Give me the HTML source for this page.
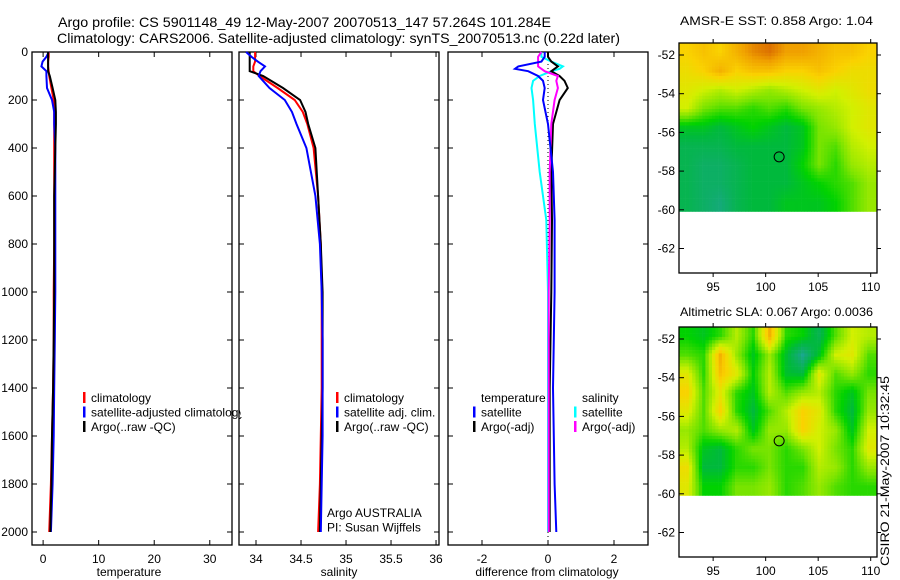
<!DOCTYPE html>
<html><head><meta charset="utf-8"><style>
html,body{margin:0;padding:0;background:#fff;}
svg{display:block;font-family:"Liberation Sans",sans-serif;}
</style></head><body>
<svg id="fig" width="900" height="580" viewBox="0 0 900 580" xmlns="http://www.w3.org/2000/svg">
<text x="58" y="27" font-size="14" textLength="493" lengthAdjust="spacingAndGlyphs">Argo profile: CS 5901148_49 12-May-2007 20070513_147 57.264S 101.284E</text>
<text x="57" y="43" font-size="14" textLength="563" lengthAdjust="spacingAndGlyphs">Climatology: CARS2006. Satellite-adjusted climatology: synTS_20070513.nc (0.22d later)</text>
<g id="layer"></g>
<text x="680" y="25" font-size="12" textLength="193" lengthAdjust="spacingAndGlyphs">AMSR-E SST: 0.858 Argo: 1.04</text>
<text x="680" y="316" font-size="12" textLength="193" lengthAdjust="spacingAndGlyphs">Altimetric SLA: 0.067 Argo: 0.0036</text>
<text transform="translate(889,566) rotate(-90)" font-size="12" textLength="190" lengthAdjust="spacingAndGlyphs">CSIRO 21-May-2007 10:32:45</text>
</svg>
<script>
// ---------- data ----------
const depthTS = [0,20,40,60,80,100,150,200,250,300,400,600,800,1000,1200,1400,1600,1800,2000];
const tempClim = [1.0,1.0,0.9,0.9,1.0,1.1,1.5,1.9,2.0,2.0,2.0,2.0,2.0,1.9,1.9,1.8,1.6,1.4,1.1];
const tempSat = [1.0,0.6,-0.1,-0.3,0.6,0.6,0.7,1.6,2.0,2.0,2.2,2.2,2.2,2.2,2.1,2.0,1.9,1.7,1.4];
const tempArgo = [0.9,0.9,0.9,0.9,0.9,1.2,1.7,2.2,2.3,2.3,2.2,2.0,2.0,2.0,1.9,1.8,1.6,1.5,1.3];
const salClim = [33.99,33.99,33.99,33.97,33.97,34.04,34.24,34.43,34.52,34.57,34.64,34.69,34.72,34.73,34.73,34.73,34.72,34.71,34.69];
const salSat = [33.89,33.95,34.02,34.10,34.05,34.03,34.15,34.32,34.40,34.45,34.56,34.66,34.71,34.73,34.74,34.74,34.74,34.73,34.72];
const salArgo = [33.93,33.93,33.93,33.93,33.93,34.08,34.30,34.49,34.55,34.58,34.66,34.69,34.72,34.74,34.74,34.74,34.73,34.72,34.71];
const depthD = [0,20,40,60,70,80,100,120,150,200,300,500,700,1000,1400,1800,2000];
const dTsat = [-0.1,-0.1,-0.2,-0.9,-1.0,-0.6,-0.3,-0.15,-0.1,-0.15,0,0.15,0.2,0.2,0.15,0.2,0.25];
const dTargo = [0,0,0.1,0.3,0.2,0.1,0.35,0.5,0.6,0.35,0.15,0.1,0.12,0.1,0.05,0.05,0.05];
const dSsat = [-0.2,-0.2,0.1,0.45,0.35,0.1,-0.25,-0.45,-0.5,-0.45,-0.4,-0.25,-0.05,0,0,0,0];
const dSargo = [-0.2,-0.3,-0.3,-0.3,-0.2,-0.1,0.3,0.25,0.3,0.2,0.1,0.05,0.05,0.02,0.02,0.02,0.02];
const depthTicks = [0,200,400,600,800,1000,1200,1400,1600,1800,2000];
const tempTicks = [0,10,20,30];
const salTicks = [34,34.5,35,35.5,36];
const diffTicks = [-2,0,2];
const latTicks = [-52,-54,-56,-58,-60,-62];
const lonTicks = [95,100,105,110];
const sstGrid = [
[.66,.68,.66,.70,.74,.76,.72,.72,.70,.68,.68,.66],
[.64,.66,.70,.66,.68,.68,.66,.66,.68,.66,.64,.64],
[.62,.60,.58,.60,.58,.56,.58,.60,.62,.60,.62,.64],
[.60,.54,.52,.52,.50,.52,.50,.54,.56,.58,.60,.62],
[.46,.46,.44,.46,.48,.46,.44,.46,.54,.56,.60,.62],
[.42,.42,.42,.44,.44,.44,.44,.46,.54,.52,.58,.60],
[.42,.40,.40,.42,.44,.44,.44,.48,.54,.50,.56,.58],
[.42,.40,.40,.42,.44,.44,.44,.46,.48,.50,.52,.56],
[.42,.40,.38,.42,.44,.44,.46,.46,.46,.48,.52,.56]];
const slaGrid = [
[.48,.46,.50,.58,.50,.70,.50,.48,.42,.52,.60,.58],
[.52,.50,.70,.56,.46,.56,.45,.36,.46,.60,.62,.52],
[.62,.50,.68,.62,.48,.58,.45,.44,.62,.52,.56,.50],
[.66,.52,.62,.50,.46,.58,.52,.56,.58,.50,.46,.54],
[.62,.52,.66,.50,.44,.52,.58,.66,.62,.50,.44,.56],
[.56,.52,.56,.58,.46,.56,.56,.66,.60,.56,.46,.60],
[.58,.46,.44,.50,.54,.54,.50,.54,.60,.54,.50,.62],
[.64,.44,.44,.50,.50,.54,.50,.50,.58,.56,.50,.56],
[.62,.48,.48,.54,.54,.56,.50,.52,.56,.52,.50,.50]];
const argoLon = 101.284, argoLat = -57.264;

// ---------- helpers ----------
const NS="http://www.w3.org/2000/svg";
const layer=document.getElementById('layer');
function mk(tag,attrs,parent){const e=document.createElementNS(NS,tag);for(const k in attrs)e.setAttribute(k,attrs[k]);(parent||layer).appendChild(e);return e;}
function txt(x,y,s,size,anchor,parent){const t=mk('text',{x:x,y:y,'font-size':size,'text-anchor':anchor||'start'},parent);t.textContent=s;return t;}
const yTop=52, pxPerM=0.24, yBot=545;
const yD=d=>yTop+d*pxPerM;
function panel(name,x0,x1,vmin,vmax){
  const sx=v=>x0+(v-vmin)/(vmax-vmin)*(x1-x0);
  const g=mk('g',{});
  
  
  const r=mk('rect',{x:x0,y:yTop,width:x1-x0,height:yBot-yTop,fill:'none',stroke:'#000','stroke-width':1.3},g);
  
  
  depthTicks.forEach(d=>{mk('line',{x1:x0,x2:x0+5,y1:yD(d),y2:yD(d),stroke:'#000'},g);mk('line',{x1:x1,x2:x1-5,y1:yD(d),y2:yD(d),stroke:'#000'},g);});
  return {g,sx};
}
function line(p,vals,depths,color,w,name){
  const pts=vals.map((v,i)=>p.sx(v).toFixed(1)+','+yD(depths[i]).toFixed(1)).join(' ');
  const l=mk('polyline',{points:pts,fill:'none',stroke:color,'stroke-width':w,'stroke-linejoin':'miter'},p.g);
  
  
}
function xticks(p,ticks,fmt){ticks.forEach(t=>{const x=p.sx(t);mk('line',{x1:x,x2:x,y1:yBot,y2:yBot-5,stroke:'#000'},p.g);mk('line',{x1:x,x2:x,y1:yTop,y2:yTop+5,stroke:'#000'},p.g);const e=txt(x,563,fmt?fmt(t):String(t),12,'middle',p.g);});}
function legend(items,x,y,parent){items.forEach((it,i)=>{const yy=y+i*14.5;if(it[0])mk('rect',{x:x,y:yy-10,width:2.5,height:11,fill:it[0]},parent);const e=txt(x+8,yy,it[1],12,'start',parent);});}

// ---------- temperature panel ----------
const pT=panel('temperature-panel',32,232,-2,34);
depthTicks.forEach(d=>{const e=txt(28,yD(d)+4,String(d),12,'end',pT.g);});
xticks(pT,tempTicks);
line(pT,tempClim,depthTS,'#f00',2,'temp-climatology-line');
line(pT,tempSat,depthTS,'#00f',2,'temp-satellite-line');
line(pT,tempArgo,depthTS,'#000',2,'temp-argo-line');
legend([['#f00','climatology'],['#00f','satellite-adjusted climatology'],['#000','Argo(..raw -QC)']],83,402,pT.g);
mk('rect',{x:240.5,y:403,width:22,height:14,fill:'#fff'});
{const e=txt(129,576,'temperature',12,'middle',pT.g);}

// ---------- salinity panel ----------
const pS=panel('salinity-panel',239,439,33.811,36.033);
xticks(pS,salTicks);
line(pS,salClim,depthTS,'#f00',2,'sal-climatology-line');
line(pS,salArgo,depthTS,'#000',2,'sal-argo-line');
line(pS,salSat,depthTS,'#00f',2,'sal-satellite-line');
legend([['#f00','climatology'],['#00f','satellite adj. clim.'],['#000','Argo(..raw -QC)']],336,402,pS.g);
legend([[null,'Argo AUSTRALIA'],[null,'PI: Susan Wijffels']],319,517,pS.g);
{const e=txt(339,576,'salinity',12,'middle',pS.g);}

// ---------- difference panel ----------
const pD=panel('difference-panel',448,648,-3.03,3.03);
xticks(pD,diffTicks);
mk('line',{x1:pD.sx(0),x2:pD.sx(0),y1:yTop,y2:yD(2000)+15,stroke:'#000','stroke-dasharray':'1,3'},pD.g);
line(pD,dSsat,depthD,'#0ff',2,'sal-satellite-diff-line');
line(pD,dTargo,depthD,'#000',2,'temp-argo-diff-line');
line(pD,dSargo,depthD,'#f0f',2,'sal-argo-diff-line');
line(pD,dTsat,depthD,'#00f',2,'temp-satellite-diff-line');
legend([[null,'temperature'],['#00f','satellite'],['#000','Argo(-adj)']],473,402,pD.g);
legend([[null,'salinity'],['#0ff','satellite'],['#f0f','Argo(-adj)']],574,402,pD.g);
{const e=txt(547,576,'difference from climatology',12,'middle',pD.g);}

// ---------- maps ----------
const stops=[[0.30,[40,160,210]],[0.38,[20,170,120]],[0.44,[0,185,60]],[0.48,[0,210,0]],[0.54,[120,228,0]],[0.60,[210,240,0]],[0.66,[250,210,0]],[0.72,[240,160,0]],[0.78,[210,90,0]]];
function cmap(v){if(v<=stops[0][0])return stops[0][1];for(let i=1;i<stops.length;i++){if(v<=stops[i][0]){const a=stops[i-1],b=stops[i];const t=(v-a[0])/(b[0]-a[0]);return a[1].map((c,k)=>Math.round(c+(b[1][k]-c)*t));}}return stops[stops.length-1][1];}
function drawMap(name,grid,top){
  const x0=679,x1=877,y0=top,y1=top+230;
  const lonMin=91.75,lonMax=110.6,latTop=-51.38;
  const sx=lon=>x0+(lon-lonMin)/(lonMax-lonMin)*(x1-x0);
  const sy=lat=>y0+(latTop-lat)*19.35;
  const g=mk('g',{});
  
  
  const rows=grid.length, cols=grid[0].length;
  const yDataBot=sy(-60.1);
  const cell=3.3;
  for(let yy=y0;yy<yDataBot;yy+=cell){
    for(let xx=x0;xx<x1;xx+=cell){
      const fr=Math.min(rows-1,Math.max(0,(yy+cell/2-y0)/(yDataBot-y0)*rows-0.5));
      const fc=Math.min(cols-1,Math.max(0,(xx+cell/2-x0)/(x1-x0)*cols-0.5));
      const r0=Math.floor(fr),c0=Math.floor(fc),r1=Math.min(rows-1,r0+1),c1=Math.min(cols-1,c0+1);
      const tr=fr-r0,tc=fc-c0;
      const v=grid[r0][c0]*(1-tr)*(1-tc)+grid[r0][c1]*(1-tr)*tc+grid[r1][c0]*tr*(1-tc)+grid[r1][c1]*tr*tc;
      const c=cmap(v);
      mk('rect',{x:xx.toFixed(1),y:yy.toFixed(1),width:Math.min(cell+0.3,x1-xx),height:Math.min(cell+0.3,yDataBot-yy),fill:`rgb(${c[0]},${c[1]},${c[2]})`},g);
    }
  }
  const fr=mk('rect',{x:x0,y:y0,width:x1-x0,height:y1-y0,fill:'none',stroke:'#000','stroke-width':1.3},g);
  
  
  latTicks.forEach(l=>{const y=sy(l);mk('line',{x1:x0,x2:x0+5,y1:y,y2:y,stroke:'#000'},g);mk('line',{x1:x1,x2:x1+4,y1:y,y2:y,stroke:'#000'},g);const e=txt(675,y+4,String(l),12,'end',g);});
  lonTicks.forEach(l=>{const x=sx(l);mk('line',{x1:x,x2:x,y1:y0,y2:y0-4,stroke:'#000'},g);mk('line',{x1:x,x2:x,y1:y1,y2:y1+4,stroke:'#000'},g);const e=txt(x,y1+18,String(l),12,'middle',g);});
  const m=mk('circle',{cx:sx(argoLon),cy:sy(argoLat),r:5,fill:'none',stroke:'#000','stroke-width':1},g);
  
  
}
drawMap('sst-map',sstGrid,43);
drawMap('sla-map',slaGrid,327);
</script>
</body></html>
